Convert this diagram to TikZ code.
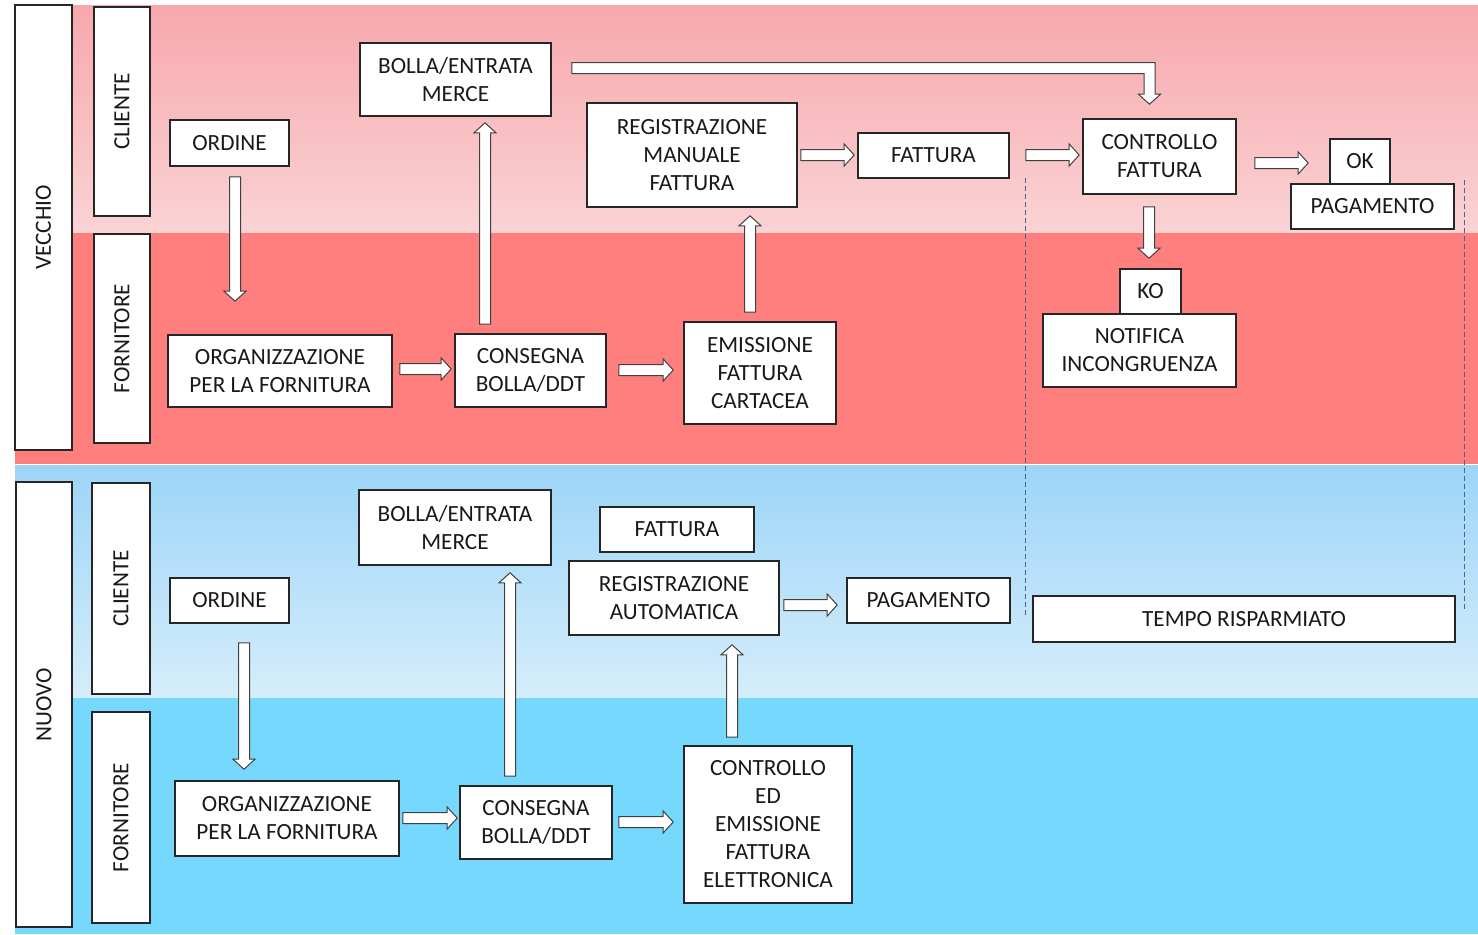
\documentclass[tikz,border=0pt]{standalone}
\usepackage{fontspec}
\setmainfont{Carlito}
\usetikzlibrary{calc}
\definecolor{oldtop}{HTML}{F7A8AC}
\definecolor{oldbot}{HTML}{FAD3D5}
\definecolor{oldsup}{HTML}{FF7F7F}
\definecolor{newtop}{HTML}{9CD5F8}
\definecolor{newbot}{HTML}{D6EDFA}
\definecolor{newsup}{HTML}{76D8FC}
\definecolor{sepline}{HTML}{4A6391}
\newcommand\barrow[2]{%
  \path (#1) coordinate (bs) (#2) coordinate (be) ($(be)!5pt!(bs)$) coordinate (bh);
  \draw[blockarrow] ($(bs)!2.75pt!90:(be)$) -- ($(bh)!2.75pt!-90:(bs)$) -- ($(bh)!5.5pt!-90:(bs)$) -- (be)
    -- ($(bh)!5.5pt!90:(bs)$) -- ($(bh)!2.75pt!90:(bs)$) -- ($(bs)!2.75pt!-90:(be)$) -- cycle;}
\begin{document}
\begin{tikzpicture}[x=0.5pt,y=-0.5pt,
    box/.style={draw=black!85,line width=0.8pt,fill=white,align=center,inner sep=0pt,
      text=black!90,font=\fontsize{11.6}{14}\selectfont},
    sz/.style 2 args={minimum width=#1*0.5pt,minimum height=#2*0.5pt},
    lane/.style={box,rotate=90},
    blockarrow/.style={draw=black!75,line width=0.5pt,fill=white,line join=miter},
    sep/.style={draw=sepline,line width=0.5pt,dash pattern=on 2.5pt off 1.5pt}]
\useasboundingbox (0,0) rectangle (1478,934);
\fill[white] (0,0) rectangle (1478,934);
\shade[top color=oldtop,bottom color=oldbot] (15,5) rectangle (1478,233);
\fill[oldsup] (15,233) rectangle (1478,464);
\shade[top color=newtop,bottom color=newbot] (15,465) rectangle (1478,698);
\fill[newsup] (15,698) rectangle (1478,934);

\draw[sep] (1025,178) -- (1025,615);
\draw[sep] (1464,180) -- (1464,612);

\node[lane,sz={445}{57}] (vecchio) at (43.5,227.5) {VECCHIO};
\node[lane,sz={209}{56}] (cliA) at (122,111.5) {CLIENTE};
\node[lane,sz={209}{56}] (forA) at (122,338.5) {FORNITORE};
\node[box,sz={119}{46}] (ordA) at (229.5,143) {ORDINE};
\node[box,sz={224}{72}] (orgA) at (280,371) {ORGANIZZAZIONE\\PER LA FORNITURA};
\node[box,sz={191}{73}] (bolA) at (455.5,79.5) {BOLLA/ENTRATA\\MERCE};
\node[box,sz={151}{73}] (conA) at (530.5,370.5) {CONSEGNA\\BOLLA/DDT};
\node[box,sz={152}{102}] (emiA) at (760,373) {EMISSIONE\\FATTURA\\CARTACEA};
\node[box,sz={210}{104}] (regA) at (692,155) {REGISTRAZIONE\\MANUALE\\FATTURA};
\node[box,sz={151}{45}] (fatA) at (933.5,155.5) {FATTURA};
\node[box,sz={153}{75}] (ctrA) at (1159.5,156.5) {CONTROLLO\\FATTURA};
\node[box,sz={60}{45}] (okA) at (1360,161.5) {OK};
\node[box,sz={163}{45}] (pagA) at (1372.5,206.5) {PAGAMENTO};
\node[box,sz={61}{45}] (koA) at (1150.5,291.5) {KO};
\node[box,sz={193}{73}] (notA) at (1139.5,350.5) {NOTIFICA\\INCONGRUENZA};

\barrow{$(ordA.south)+(5.5,10)$}{$(orgA.north)+(-45,-33)$}
\barrow{$(orgA.east)+(7,-2)$}{$(conA.west)+(-3,-1.5)$}
\barrow{$(conA.north)+(-45.5,-9)$}{$(bolA.south)+(29.5,6)$}
\barrow{$(conA.east)+(12,-0.5)$}{$(emiA.west)+(-10,-3)$}
\barrow{$(emiA.north)+(-10,-9)$}{$(regA.south)+(58,8)$}
\barrow{$(regA.east)+(3,0)$}{$(fatA.west)+(-3,-0.5)$}
\barrow{$(fatA.east)+(16,-0.5)$}{$(ctrA.west)+(-3,-1.5)$}
\barrow{$(ctrA.east)+(18,6.5)$}{$(okA.west)+(-21,1.5)$}
\barrow{$(ctrA.south)+(-10.5,12)$}{$(koA.north)+(-1.5,-10)$}
\path ($(bolA.east)+(20,-11.5)$) coordinate (es) ($(ctrA.north)+(-10,-14)$) coordinate (et);
\draw[blockarrow] ($(es)+(0,-5.5)$) -- ($(es -| et)+(5.5,-5.5)$) -- ($(et)+(5.5,-10)$) -- ($(et)+(11,-10)$)
  -- (et) -- ($(et)+(-11,-10)$) -- ($(et)+(-5.5,-10)$) -- ($(es -| et)+(-5.5,5.5)$) -- ($(es)+(0,5.5)$) -- cycle;

\node[lane,sz={445}{56}] (nuovo) at (44,704.5) {NUOVO};
\node[lane,sz={211}{58}] (cliB) at (121,588.5) {CLIENTE};
\node[lane,sz={211}{58}] (forB) at (121,817.5) {FORNITORE};
\node[box,sz={119}{45}] (ordB) at (229.5,600.5) {ORDINE};
\node[box,sz={224}{75}] (orgB) at (287,818.5) {ORGANIZZAZIONE\\PER LA FORNITURA};
\node[box,sz={192}{75}] (bolB) at (455,527.5) {BOLLA/ENTRATA\\MERCE};
\node[box,sz={152}{73}] (conB) at (536,822.5) {CONSEGNA\\BOLLA/DDT};
\node[box,sz={168}{157}] (ctlB) at (768,824.5) {CONTROLLO\\ED\\EMISSIONE\\FATTURA\\ELETTRONICA};
\node[box,sz={154}{45}] (fatB) at (677,529.5) {FATTURA};
\node[box,sz={210}{74}] (regB) at (674,598) {REGISTRAZIONE\\AUTOMATICA};
\node[box,sz={163}{45}] (pagB) at (928.5,600.5) {PAGAMENTO};
\node[box,sz={422}{46}] (tempo) at (1244,619) {TEMPO RISPARMIATO};

\barrow{$(ordB.south)+(14.5,19)$}{$(orgB.north)+(-43,-11)$}
\barrow{$(orgB.east)+(3,-0.5)$}{$(conB.west)+(-2,-4.5)$}
\barrow{$(conB.north)+(-26,-9)$}{$(bolB.south)+(55,7)$}
\barrow{$(conB.east)+(6,-0.5)$}{$(ctlB.west)+(-10,-2.5)$}
\barrow{$(ctlB.north)+(-36,-8)$}{$(regB.south)+(58,9)$}
\barrow{$(regB.east)+(4,7)$}{$(pagB.west)+(-9,4.5)$}
\end{tikzpicture}
\end{document}
